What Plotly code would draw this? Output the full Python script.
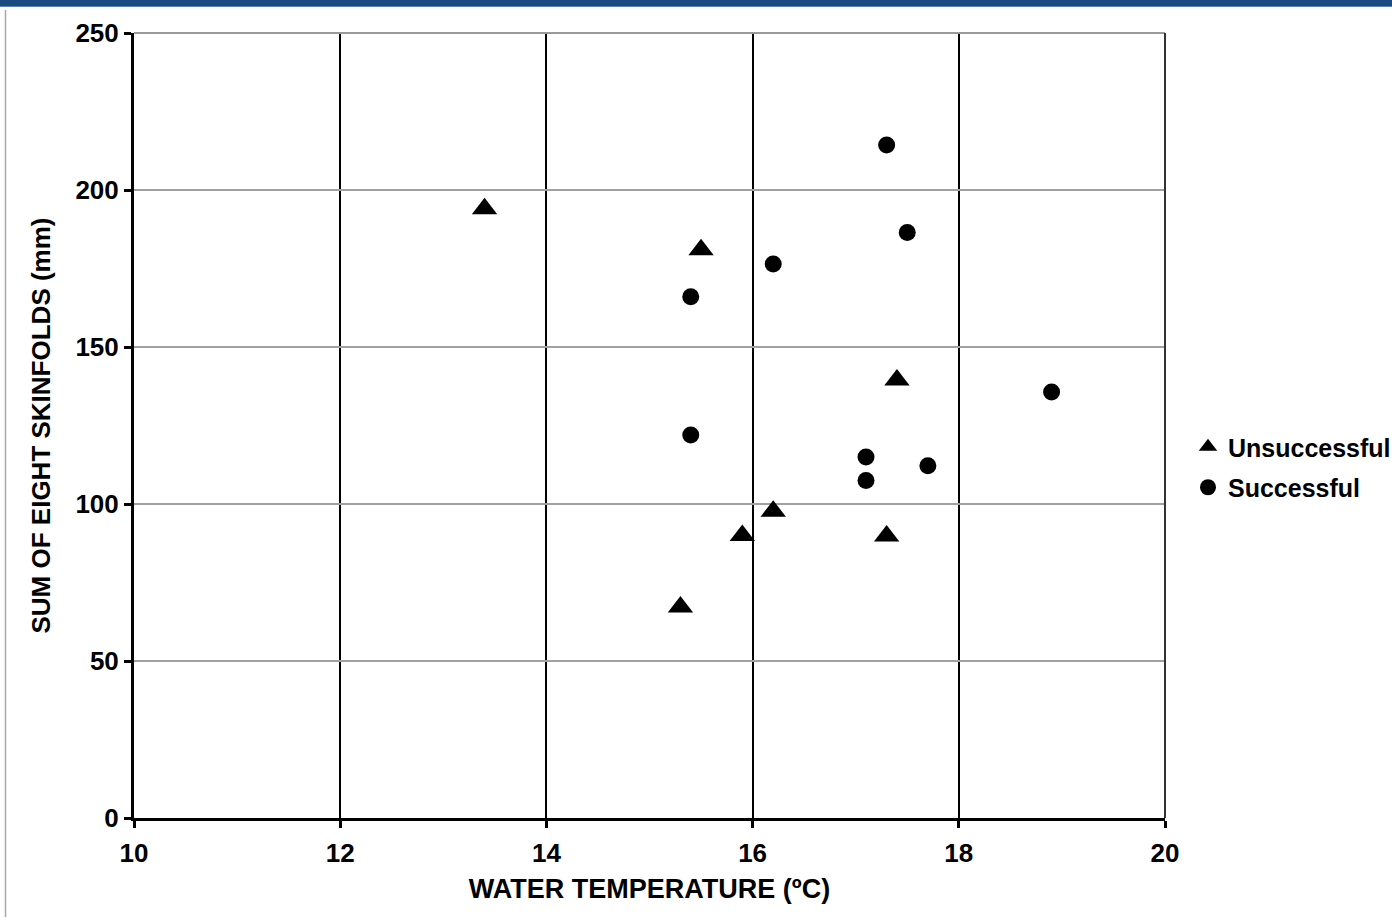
import plotly.graph_objects as go

# Data
unsucc_temp = [13.4, 15.5, 17.4, 16.2, 15.9, 17.3, 15.3]
unsucc_skin = [194, 181, 139.5, 97.7, 90, 89.8, 67.2]
succ_temp = [17.3, 17.5, 16.2, 15.4, 18.9, 15.4, 17.1, 17.1, 17.7]
succ_skin = [214.3, 186.5, 176.4, 166, 135.7, 122, 115, 107.5, 112.2]

x_ticks = [10, 12, 14, 16, 18, 20]
y_ticks = [0, 50, 100, 150, 200, 250]

FONT = "Arial, Liberation Sans, sans-serif"

fig = go.Figure()
fig.add_trace(go.Scatter(
    x=unsucc_temp, y=unsucc_skin, mode="markers", name="Unsuccessful", legendgroup="u",
    marker=dict(symbol="triangle-up", size=22, color="black"),
))
fig.add_trace(go.Scatter(
    x=succ_temp, y=succ_skin, mode="markers", name="Successful", legendgroup="s",
    marker=dict(symbol="circle", size=17, color="black"),
))

L, R, T, B = 134, 227, 33, 99
W, H = 1392, 917
pw, ph = W - L - R, H - T - B

def px(xp):
    return (xp - L) / pw

def py(yp):
    return (H - B - yp) / ph

shapes = [
    # top blue band
    dict(type="rect", xref="paper", yref="paper", x0=px(-5), x1=px(W + 5), y0=py(6), y1=py(-5),
         fillcolor="#1B4A80", line=dict(width=0), layer="above"),
    dict(type="line", xref="paper", yref="paper", x0=px(-5), x1=px(W + 5), y0=py(6.5), y1=py(6.5),
         line=dict(color="#5F82AE", width=1)),
    # left gray rule
    dict(type="line", xref="paper", yref="paper", x0=px(5.5), x1=px(5.5), y0=py(10), y1=py(W),
         line=dict(color="#A6A6A6", width=1.5)),
    # plot frame top (gray) and right (dark)
    dict(type="line", xref="paper", yref="paper", x0=0, x1=1, y0=1, y1=1,
         line=dict(color="#9A9A9A", width=2)),
    dict(type="line", xref="paper", yref="paper", x0=1, x1=1, y0=0, y1=1,
         line=dict(color="#333333", width=2)),
]

fig.update_layout(
    width=W, height=H,
    margin=dict(l=L, r=R, t=T, b=B, autoexpand=False),
    paper_bgcolor="white", plot_bgcolor="white",
    font=dict(family=FONT, color="black"),
    showlegend=True,
    legend=dict(
        x=px(1188), xanchor="left", y=py(467), yanchor="middle",
        font=dict(family=FONT, size=25, color="black", weight="bold"),
        bgcolor="rgba(0,0,0,0)", itemwidth=30, tracegroupgap=5,
    ),
    xaxis=dict(
        range=[10, 20], tickvals=x_ticks, ticktext=[str(v) for v in x_ticks],
        showline=True, linecolor="black", linewidth=3,
        ticks="outside", ticklen=7, tickwidth=3, tickcolor="black",
        showgrid=True, gridcolor="black", gridwidth=1.5, zeroline=False,
        ticklabelstandoff=3,
        tickfont=dict(family=FONT, size=26, color="black", weight="bold"),
        title=dict(text="WATER TEMPERATURE (ºC)", standoff=12,
                   font=dict(family=FONT, size=27, color="black", weight="bold")),
    ),
    yaxis=dict(
        range=[0, 250], tickvals=y_ticks, ticktext=[str(v) for v in y_ticks],
        showline=True, linecolor="black", linewidth=3,
        ticks="outside", ticklen=7, tickwidth=3, tickcolor="black",
        showgrid=True, gridcolor="#A0A0A0", gridwidth=1.5, zeroline=False,
        tickfont=dict(family=FONT, size=26, color="black", weight="bold"),
        title=dict(text="SUM OF EIGHT SKINFOLDS (mm)", standoff=18,
                   font=dict(family=FONT, size=26, color="black", weight="bold")),
    ),
    shapes=shapes,
)

fig.write_html("out.html")
